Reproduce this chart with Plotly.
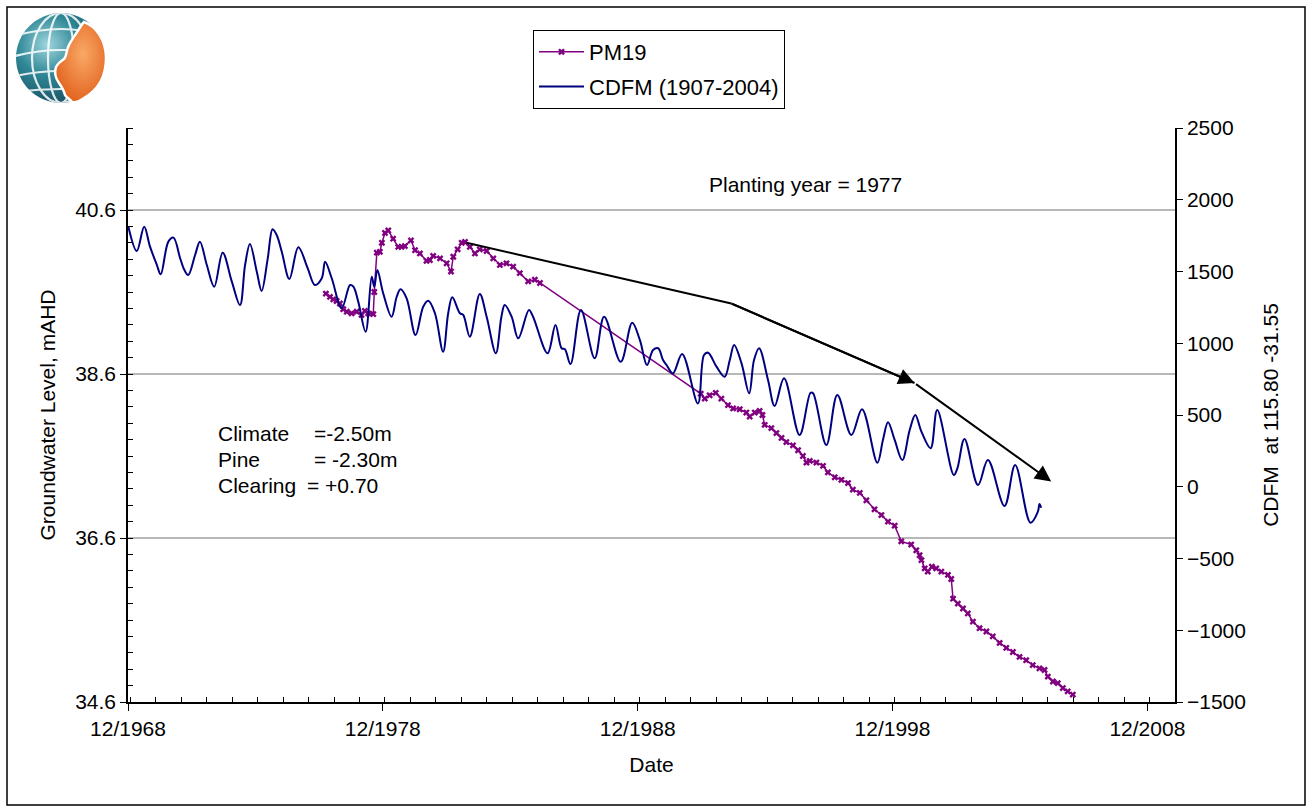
import base64
import numpy as np
import pandas as pd
import plotly.graph_objects as go

# ---------------- data ----------------
cdfm_year = [1968.93, 1969.26, 1969.55, 1969.78, 1970.05, 1970.20, 1970.50, 1970.70, 1970.96, 1971.13,
             1971.28, 1971.55, 1971.74, 1972.01, 1972.30, 1972.63, 1972.99, 1973.31, 1973.51, 1973.70,
             1973.97, 1974.16, 1974.40, 1974.59, 1974.75, 1974.95, 1975.25, 1975.60, 1975.97, 1976.25,
             1976.52, 1976.65, 1976.91, 1977.30, 1977.63, 1977.76, 1977.95, 1978.24, 1978.48, 1978.58,
             1978.70, 1978.93, 1979.26, 1979.46, 1979.61, 1979.85, 1980.20, 1980.50, 1980.70, 1980.96,
             1981.28, 1981.48, 1981.64, 1981.94, 1982.07, 1982.33, 1982.72, 1982.99, 1983.35, 1983.57,
             1983.70, 1983.97, 1984.23, 1984.65, 1984.81, 1985.38, 1985.69, 1985.93, 1986.06, 1986.28,
             1986.69, 1987.23, 1987.60, 1988.25, 1988.70, 1989.00, 1989.28, 1989.52, 1989.72, 1989.91,
             1990.05, 1990.30, 1990.66, 1991.28, 1991.52, 1991.68, 1992.01, 1992.33, 1992.53, 1992.70,
             1992.99, 1993.29, 1993.48, 1993.68, 1994.03, 1994.29, 1994.66, 1995.27, 1995.70, 1995.80,
             1996.32, 1996.75, 1997.30, 1997.72, 1998.32, 1998.54, 1998.74, 1999.00, 1999.30, 1999.59,
             1999.81, 2000.05, 2000.41, 2000.67, 2001.32, 2001.46, 2001.74, 2002.27, 2002.66, 2003.31,
             2003.73, 2004.33, 2004.62, 2004.68, 2004.75]
cdfm_value = [1812, 1643, 1812, 1673, 1545, 1480, 1708, 1736, 1594, 1510,
              1476, 1615, 1708, 1545, 1394, 1631, 1429, 1266, 1545, 1692,
              1499, 1364, 1592, 1794, 1754, 1638, 1448, 1669, 1522, 1406,
              1453, 1568, 1453, 1243, 1406, 1394, 1290, 1080, 1464, 1394,
              1510, 1348, 1185, 1324, 1376, 1313, 1057, 1255, 1296, 1209,
              941, 1209, 1320, 1209, 1197, 1046, 1343, 1185, 930, 1185,
              1266, 1185, 1034, 1232, 1185, 930, 1127, 965, 958, 855,
              1232, 895, 1185, 871, 1143, 1023, 848, 953, 965, 883,
              848, 790, 925, 581, 918, 934, 837, 767, 883, 988,
              860, 651, 883, 965, 744, 563, 756, 361, 655, 651,
              291, 639, 361, 540, 167, 326, 449, 326, 186, 395,
              500, 384, 268, 535, 82, 128, 333, 12, 186, -134,
              151, -251, -174, -120, -146]

pm19_year = [1976.68, 1976.84, 1976.97, 1977.10, 1977.23, 1977.36, 1977.50, 1977.69, 1977.89, 1978.08,
             1978.21, 1978.34, 1978.54, 1978.58, 1978.68, 1978.80, 1978.88, 1979.00, 1979.13, 1979.32,
             1979.52, 1979.65, 1979.78, 1980.02, 1980.18, 1980.37, 1980.63, 1980.76, 1980.89, 1981.16,
             1981.42, 1981.59, 1981.68, 1981.85, 1982.01, 1982.14, 1982.33, 1982.53, 1982.72, 1982.99,
             1983.25, 1983.51, 1983.77, 1984.03, 1984.29, 1984.62, 1984.88, 1985.08,
             1991.39, 1991.55, 1991.74, 1991.98, 1992.20, 1992.46, 1992.66, 1992.92, 1993.18, 1993.31,
             1993.51, 1993.70, 1993.81, 1993.90, 1994.16, 1994.36, 1994.56, 1994.75, 1995.01, 1995.21,
             1995.40, 1995.54, 1995.67, 1995.93, 1996.19, 1996.38, 1996.65, 1996.91, 1997.17, 1997.36,
             1997.63, 1997.89, 1998.21, 1998.48, 1998.74, 1999.00, 1999.26, 1999.65, 1999.85, 1999.98,
             2000.05, 2000.18, 2000.30, 2000.46, 2000.63, 2000.83, 2001.09, 2001.22, 2001.29, 2001.48,
             2001.68, 2001.87, 2002.07, 2002.33, 2002.60, 2002.85, 2003.12, 2003.38, 2003.64, 2003.90,
             2004.16, 2004.42, 2004.68, 2004.88, 2005.01, 2005.21, 2005.40, 2005.60, 2005.79, 2005.99]
pm19_level = [39.58, 39.54, 39.51, 39.49, 39.46, 39.39, 39.36, 39.34, 39.36, 39.32,
              39.37, 39.34, 39.33, 39.60, 40.08, 40.09, 40.20, 40.32, 40.35, 40.25,
              40.15, 40.15, 40.16, 40.23, 40.11, 40.07, 39.98, 39.99, 40.04, 40.01,
              39.95, 39.85, 40.03, 40.12, 40.20, 40.21, 40.15, 40.07, 40.12, 40.10,
              40.01, 39.93, 39.95, 39.91, 39.83, 39.73, 39.75, 39.71,
              38.36, 38.30, 38.34, 38.37, 38.30, 38.22, 38.18, 38.17, 38.13, 38.08,
              38.13, 38.15, 38.10, 37.98, 37.94, 37.88, 37.82, 37.77, 37.73, 37.67,
              37.60, 37.52, 37.54, 37.52, 37.48, 37.40, 37.34, 37.31, 37.27, 37.19,
              37.15, 37.06, 36.95, 36.88, 36.80, 36.75, 36.56, 36.52, 36.45, 36.39,
              36.33, 36.23, 36.19, 36.25, 36.23, 36.19, 36.15, 36.10, 35.86, 35.80,
              35.74, 35.68, 35.58, 35.50, 35.46, 35.40, 35.32, 35.26, 35.21, 35.15,
              35.11, 35.05, 35.01, 34.99, 34.91, 34.85, 34.83, 34.77, 34.73, 34.69]

# trend arrow vertices (year, groundwater level)
trend_year = [1982.20, 1992.59, 1999.78, 2005.14]
trend_level = [40.20, 39.46, 38.49, 37.29]

left_ticks = [34.6, 36.6, 38.6, 40.6]
right_ticks = [-1500, -1000, -500, 0, 500, 1000, 1500, 2000, 2500]


def yr2date(y):
    yi = int(np.floor(y))
    s = pd.Timestamp(yi, 1, 1)
    e = pd.Timestamp(yi + 1, 1, 1)
    return s + (e - s) * (y - yi)


def dstr(y):
    return yr2date(y).strftime("%Y-%m-%d %H:%M:%S")


# plot area in pixels
PL, PR, PT, PB = 128, 1175, 128, 702
W, H = 1313, 809


def px(x):
    return (x - PL) / (PR - PL)


def py(y):
    return (PB - y) / (PB - PT)


FONT = "Liberation Sans, Arial, sans-serif"
PURPLE = "#800080"
NAVY = "#000080"
FS = 21

fig = go.Figure()
fig.add_trace(go.Scatter(
    x=[yr2date(v) for v in cdfm_year], y=cdfm_value, yaxis="y2",
    mode="lines", name="CDFM (1907-2004)", legendgroup="b", legendrank=2,
    line=dict(color=NAVY, width=2, shape="spline", smoothing=1.0)))
fig.add_trace(go.Scatter(
    x=[yr2date(v) for v in pm19_year], y=pm19_level,
    mode="lines+markers", name="PM19", legendgroup="a", legendrank=1,
    line=dict(color=PURPLE, width=1.5),
    marker=dict(symbol="x", size=6, color=PURPLE)))

# trend line & arrows
fig.add_shape(type="line", xref="x", yref="y",
              x0=dstr(trend_year[0]), y0=trend_level[0],
              x1=dstr(trend_year[1]), y1=trend_level[1],
              line=dict(color="black", width=2))
fig.add_shape(type="line", xref="x", yref="y",
              x0=dstr(trend_year[1]), y0=trend_level[1],
              x1=dstr(trend_year[2]), y1=trend_level[2],
              line=dict(color="black", width=2))
for i in (1, 2):
    fig.add_annotation(x=dstr(trend_year[i + 1]), y=trend_level[i + 1],
                       ax=dstr(trend_year[i]), ay=trend_level[i],
                       xref="x", yref="y", axref="x", ayref="y",
                       text="", showarrow=True, arrowhead=2, arrowsize=1.6,
                       arrowwidth=2, arrowcolor="black")

txt = dict(xref="paper", yref="paper", showarrow=False, xanchor="left", yanchor="middle",
           font=dict(family=FONT, size=FS, color="black"))
fig.add_annotation(x=px(707), y=py(184), text="Planting year = 1977", **txt)
for lab, val, yy, vx in [("Climate", "=-2.50m", 433, 312), ("Pine", "= -2.30m", 459, 312),
                         ("Clearing", "= +0.70", 485, 305)]:
    fig.add_annotation(x=px(216), y=py(yy), text=lab, **txt)
    fig.add_annotation(x=px(vx), y=py(yy), text=val, **txt)

# outer border
fig.add_shape(type="rect", xref="paper", yref="paper",
              x0=px(7), x1=px(1305), y0=py(805), y1=py(7),
              line=dict(color="black", width=1.5), layer="below")

# logo
svg = '''<svg xmlns="http://www.w3.org/2000/svg" width="100" height="100" viewBox="0 0 100 100">
<defs>
<radialGradient id="g" cx="35%" cy="35%" r="75%"><stop offset="0" stop-color="#9fd6de"/><stop offset="0.45" stop-color="#2f8796"/><stop offset="1" stop-color="#16485a"/></radialGradient>
<radialGradient id="o" cx="55%" cy="40%" r="70%"><stop offset="0" stop-color="#f9a866"/><stop offset="1" stop-color="#df5a14"/></radialGradient>
<clipPath id="c"><circle cx="51" cy="50" r="45"/></clipPath>
</defs>
<circle cx="51" cy="50" r="45" fill="url(#g)"/>
<g clip-path="url(#c)" fill="none" stroke="#ffffff" stroke-width="2.2" opacity="0.85">
<ellipse cx="51" cy="50" rx="13" ry="45"/>
<ellipse cx="51" cy="50" rx="29" ry="45"/>
<path d="M5,28 Q51,14 97,28"/>
<path d="M5,48 Q51,36 97,48"/>
<path d="M5,68 Q51,58 97,68"/>
<path d="M5,84 Q51,78 97,84"/>
</g>
<path d="M74,14 C86,18 96,32 96,50 C96,68 88,82 74,90 C70,93 66,95 62,94 C60,91 57,90 55,87 C54,82 51,78 49,75 C46,71 44,65 46,59 C48,55 51,53 54,51 C57,48 56,42 59,37 C62,31 66,26 69,21 C71,18 72,16 74,14 Z" fill="url(#o)" stroke="#ffffff" stroke-width="2.5"/>
</svg>'''
logo_src = "data:image/svg+xml;base64," + base64.b64encode(svg.encode()).decode()
fig.add_layout_image(source=logo_src, xref="paper", yref="paper",
                     x=px(10), y=py(8), sizex=100 / (PR - PL), sizey=100 / (PB - PT),
                     xanchor="left", yanchor="top", sizing="stretch", layer="above")

axis_font = dict(family=FONT, size=FS, color="black")
fig.update_layout(
    width=W, height=H, autosize=False,
    margin=dict(l=PL, r=W - PR, t=PT, b=H - PB),
    paper_bgcolor="white", plot_bgcolor="white",
    font=axis_font,
    showlegend=True,
    legend=dict(x=px(533), y=py(30), xanchor="left", yanchor="top",
                bgcolor="white", bordercolor="black", borderwidth=1,
                font=dict(family=FONT, size=22, color="black"),
                traceorder="grouped", tracegroupgap=3, itemwidth=45),
    xaxis=dict(type="date", range=["1968-12-01", "2010-01-01"],
               tick0="1968-12-01", dtick="M120", tickformat="%m/%Y",
               ticks="outside", ticklen=7, tickcolor="black", tickwidth=1,
               showline=True, linecolor="black", linewidth=1.5,
               showgrid=False, zeroline=False, automargin=False,
               minor=dict(dtick="M12", ticks="inside", ticklen=5, tickcolor="black", showgrid=False),
               title=dict(text="Date", font=axis_font, standoff=18),
               tickfont=axis_font),
    yaxis=dict(range=[34.6, 41.6], tickvals=left_ticks, tickformat=".1f",
               ticks="outside", ticklen=6, tickcolor="black",
               showline=True, linecolor="black", linewidth=1.5,
               showgrid=True, gridcolor="#b8b8b8", gridwidth=1.5,
               zeroline=False, automargin=False,
               minor=dict(tick0=34.6, dtick=0.2, ticks="inside", ticklen=5, tickcolor="black", showgrid=False),
               title=dict(text="Groundwater Level, mAHD", font=axis_font, standoff=14),
               tickfont=axis_font),
    yaxis2=dict(range=[-1500, 2500], tickvals=right_ticks, overlaying="y", side="right",
                ticks="outside", ticklen=6, tickcolor="black",
                showline=True, linecolor="black", linewidth=1.5,
                showgrid=False, zeroline=False, automargin=False,
                title=dict(text="CDFM\u00a0 at 115.80 -31.55", font=axis_font, standoff=18),
                tickfont=axis_font),
)

fig.write_html("out.html")
